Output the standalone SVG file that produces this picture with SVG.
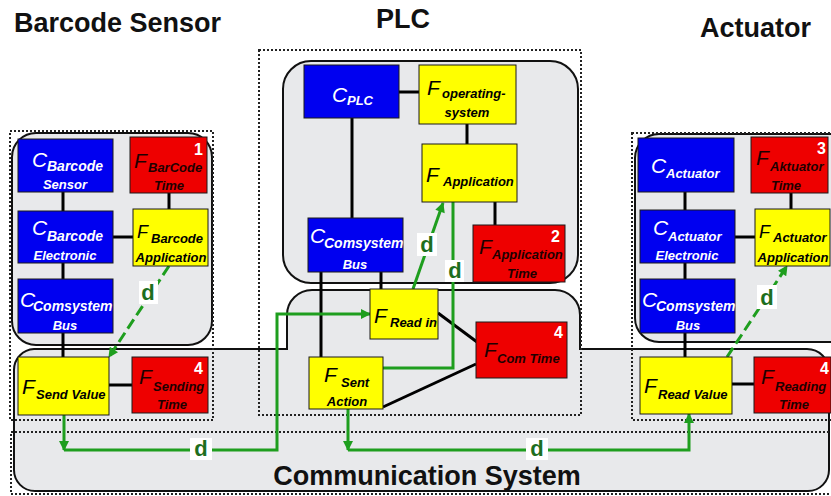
<svg xmlns="http://www.w3.org/2000/svg" width="831" height="496" viewBox="0 0 831 496">
  <style>
    text { font-family: "Liberation Sans", Arial, sans-serif; }
    .title { font-size: 27px; font-weight: bold; fill: #111; }
    .cs { font-size: 27px; font-weight: bold; fill: #111; text-anchor: middle; }
    .big { font-size: 21px; font-style: italic; }
    .mid { font-size: 18px; font-style: italic; }
    .sub { font-size: 13px; font-style: italic; font-weight: bold; }
    .sub14 { font-size: 14px; font-style: italic; font-weight: bold; }
    .c { text-anchor: middle; }
    .w { fill: #fff; }
    .k { fill: #000; }
    .r { fill: #1e0000; }
    .num { font-size: 16px; font-weight: bold; fill: #fff; text-anchor: end; }
    .blue { fill: #0000f0; stroke: #1a1a1a; stroke-width: 1; }
    .yel { fill: #ffff00; stroke: #1a1a1a; stroke-width: 1; }
    .red { fill: #ee0000; stroke: #1a1a1a; stroke-width: 1; }
    .frame { fill: #e8e9eb; stroke: #111; stroke-width: 2; }
    .dot { fill: none; stroke: #222; stroke-width: 2; stroke-dasharray: 2 2; }
    .wire { stroke: #000; stroke-width: 3; fill: none; }
    .g { stroke: #1e9e1e; stroke-width: 3; fill: none; }
    .dash { stroke-dasharray: 11 5; }
    .dl { font-size: 22px; font-weight: bold; fill: #1e6e1e; text-anchor: middle; }
    .lbg { fill: #fff; }
  </style>
  <defs>
    <marker id="arrow" viewBox="0 0 10 10" refX="9" refY="5" markerWidth="11" markerHeight="10" markerUnits="userSpaceOnUse" orient="auto">
      <path d="M0,0 L10,5 L0,10 Z" fill="#1e9e1e"/>
    </marker>
  </defs>

  <rect width="831" height="496" fill="#fff"/>

  <!-- titles -->
  <text class="title" x="14" y="32">Barcode Sensor</text>
  <text class="title" x="376" y="28">PLC</text>
  <text class="title" x="700" y="37">Actuator</text>

  <!-- grey frames -->
  <g id="frames">
    <rect class="frame" x="12" y="133" width="200" height="212" rx="24"/>
    <rect class="frame" x="283" y="61" width="295" height="222" rx="28"/>
    <rect class="frame" x="635" y="134" width="230" height="208" rx="24"/>
    <path class="frame" d="M34,349 H287 V315 A25,25 0 0 1 312,290 H555 A25,25 0 0 1 580,315 V349 H807 A22,22 0 0 1 829,371 V470 A21,21 0 0 1 808,491 H35 A21,21 0 0 1 14,470 V370 A21,21 0 0 1 34,349 Z"/>
  </g>

  <!-- dotted groupings -->
  <g id="groups">
    <rect class="dot" x="10" y="131" width="203" height="289"/>
    <rect class="dot" x="259" y="50" width="322" height="365"/>
    <rect class="dot" x="632" y="133" width="210" height="287"/>
    <rect class="dot" x="11" y="432" width="830" height="62"/>
  </g>

  <text class="cs" x="427" y="485">Communication System</text>

  <!-- connectors -->
  <g id="connectors">
    <!-- barcode sensor wiring -->
    <line class="wire" x1="63" y1="192" x2="63" y2="211"/>
    <line class="wire" x1="63" y1="263" x2="63" y2="279"/>
    <line class="wire" x1="113" y1="237" x2="133" y2="237"/>
    <line class="wire" x1="169" y1="193" x2="169" y2="209"/>
    <line class="wire" x1="63" y1="333" x2="63" y2="357"/>
    <line class="wire" x1="109" y1="385" x2="132" y2="385"/>
    <!-- PLC wiring -->
    <line class="wire" x1="399" y1="92" x2="419" y2="92"/>
    <line class="wire" x1="467" y1="124" x2="467" y2="144"/>
    <line class="wire" x1="352" y1="118" x2="352" y2="218"/>
    <line class="wire" x1="495" y1="202" x2="495" y2="225"/>
    <line class="wire" x1="321" y1="272" x2="321" y2="357"/>
    <line class="wire" x1="381" y1="272" x2="381" y2="289"/>
    <line class="wire" x1="438" y1="313" x2="477" y2="342"/>
    <line class="wire" x1="383" y1="407" x2="476" y2="364"/>
    <!-- actuator wiring -->
    <line class="wire" x1="685" y1="192" x2="685" y2="210"/>
    <line class="wire" x1="685" y1="263" x2="685" y2="279"/>
    <line class="wire" x1="735" y1="237" x2="755" y2="237"/>
    <line class="wire" x1="791" y1="193" x2="791" y2="209"/>
    <line class="wire" x1="685" y1="333" x2="685" y2="357"/>
    <line class="wire" x1="732" y1="384" x2="754" y2="384"/>

    <!-- data flows -->
    <line class="g dash" x1="169" y1="266" x2="109" y2="357" marker-end="url(#arrow)"/>
    <path class="g" d="M64,415 V450" marker-end="url(#arrow)"/>
    <path class="g" d="M64,450 H277 V314 H370" marker-end="url(#arrow)"/>
    <line class="g" x1="413" y1="289" x2="443" y2="203" marker-end="url(#arrow)"/>
    <path class="g" d="M383,368 H453 V202"/>
    <path class="g" d="M348,409 V450" marker-end="url(#arrow)"/>
    <path class="g" d="M348,450 H689 V414" marker-end="url(#arrow)"/>
    <line class="g dash" x1="727" y1="357" x2="787" y2="266" marker-end="url(#arrow)"/>

    <!-- delay labels -->
    <rect class="lbg" x="139" y="281" width="19" height="23"/>
    <text class="dl" x="148" y="300">d</text>
    <rect class="lbg" x="190" y="438" width="22" height="22"/>
    <text class="dl" x="201" y="456">d</text>
    <rect class="lbg" x="417" y="233" width="20" height="23"/>
    <text class="dl" x="427" y="252">d</text>
    <rect class="lbg" x="445" y="260" width="19" height="22"/>
    <text class="dl" x="455" y="278">d</text>
    <rect class="lbg" x="526" y="438" width="22" height="22"/>
    <text class="dl" x="537" y="456">d</text>
    <rect class="lbg" x="757" y="285" width="20" height="24"/>
    <text class="dl" x="767" y="305">d</text>
  </g>

  <!-- Barcode sensor nodes -->
  <g id="c-barcode-sensor">
    <rect class="blue" x="18" y="139" width="95" height="53"/>
    <text class="big w" x="32" y="167">C</text>
    <text class="sub14 w" x="47" y="171">Barcode</text>
    <text class="sub w c" x="65" y="189">Sensor</text>
  </g>
  <g id="f-barcode-time">
    <rect class="red" x="130" y="137" width="77" height="56"/>
    <text class="big r" x="134" y="168">F</text>
    <text class="sub r" x="148" y="172">BarCode</text>
    <text class="sub r c" x="169" y="190">Time</text>
    <text class="num" x="203" y="155">1</text>
  </g>
  <g id="c-barcode-electronic">
    <rect class="blue" x="18" y="211" width="95" height="52"/>
    <text class="big w" x="32" y="235">C</text>
    <text class="sub14 w" x="47" y="241">Barcode</text>
    <text class="sub w c" x="65" y="260">Electronic</text>
  </g>
  <g id="f-barcode-application">
    <rect class="yel" x="133" y="209" width="75" height="57"/>
    <text class="mid k" x="137" y="238">F</text>
    <text class="sub k" x="151" y="243">Barcode</text>
    <text class="sub k c" x="171" y="262">Application</text>
  </g>
  <g id="c-comsystem-bus-sensor">
    <rect class="blue" x="18" y="279" width="95" height="54"/>
    <text class="big w" x="20" y="307">C</text>
    <text class="sub14 w" x="33" y="311">Comsystem</text>
    <text class="sub w c" x="65" y="330">Bus</text>
  </g>
  <g id="f-send-value">
    <rect class="yel" x="18" y="357" width="91" height="58"/>
    <text class="big k" x="22" y="394">F</text>
    <text class="sub k" x="36" y="399">Send Value</text>
  </g>
  <g id="f-sending-time">
    <rect class="red" x="132" y="357" width="76" height="56"/>
    <text class="big r" x="139" y="384">F</text>
    <text class="sub r" x="153" y="391">Sending</text>
    <text class="sub r c" x="172" y="409">Time</text>
    <text class="num" x="203" y="374">4</text>
  </g>

  <!-- PLC nodes -->
  <g id="c-plc">
    <rect class="blue" x="304" y="65" width="95" height="53"/>
    <text class="big w" x="332" y="102">C</text>
    <text class="sub w" x="347" y="105">PLC</text>
  </g>
  <g id="f-operating-system">
    <rect class="yel" x="419" y="65" width="97" height="59"/>
    <text class="big k" x="427" y="95">F</text>
    <text class="sub k" x="442" y="98">operating-</text>
    <text class="sub k c" x="467" y="117">system</text>
  </g>
  <g id="f-application">
    <rect class="yel" x="422" y="144" width="95" height="58"/>
    <text class="big k" x="426" y="182">F</text>
    <text class="sub k" x="443" y="186">Application</text>
  </g>
  <g id="f-application-time">
    <rect class="red" x="473" y="225" width="92" height="57"/>
    <text class="big r" x="479" y="254">F</text>
    <text class="sub r" x="492" y="259">Application</text>
    <text class="sub r c" x="522" y="278">Time</text>
    <text class="num" x="560" y="242">2</text>
  </g>
  <g id="c-comsystem-bus-plc">
    <rect class="blue" x="308" y="218" width="95" height="54"/>
    <text class="big w" x="310" y="243">C</text>
    <text class="sub14 w" x="324" y="248">Comsystem</text>
    <text class="sub w c" x="355" y="269">Bus</text>
  </g>
  <g id="f-read-in">
    <rect class="yel" x="370" y="289" width="68" height="50"/>
    <text class="big k" x="374" y="323">F</text>
    <text class="sub k" x="390" y="327">Read in</text>
  </g>
  <g id="f-com-time">
    <rect class="red" x="476" y="322" width="91" height="56"/>
    <text class="big r" x="484" y="357">F</text>
    <text class="sub r" x="497" y="363">Com Time</text>
    <text class="num" x="563" y="338">4</text>
  </g>
  <g id="f-sent-action">
    <rect class="yel" x="309" y="357" width="74" height="52"/>
    <text class="big k" x="324" y="382">F</text>
    <text class="sub k" x="341" y="387">Sent</text>
    <text class="sub k c" x="347" y="406">Action</text>
  </g>

  <!-- Actuator nodes -->
  <g id="c-actuator">
    <rect class="blue" x="638" y="138" width="96" height="54"/>
    <text class="big w" x="651" y="173">C</text>
    <text class="sub w" x="666" y="178">Actuator</text>
  </g>
  <g id="f-aktuator-time">
    <rect class="red" x="751" y="137" width="77" height="56"/>
    <text class="big r" x="756" y="165">F</text>
    <text class="sub r" x="770" y="171">Aktuator</text>
    <text class="sub r c" x="786" y="190">Time</text>
    <text class="num" x="826" y="154">3</text>
  </g>
  <g id="c-actuator-electronic">
    <rect class="blue" x="640" y="210" width="95" height="53"/>
    <text class="big w" x="653" y="235">C</text>
    <text class="sub w" x="668" y="241">Actuator</text>
    <text class="sub w c" x="687" y="260">Electronic</text>
  </g>
  <g id="f-actuator-application">
    <rect class="yel" x="755" y="209" width="75" height="57"/>
    <text class="mid k" x="759" y="238">F</text>
    <text class="sub k" x="773" y="242">Actuator</text>
    <text class="sub k c" x="793" y="262">Application</text>
  </g>
  <g id="c-comsystem-bus-actuator">
    <rect class="blue" x="640" y="279" width="95" height="54"/>
    <text class="big w" x="642" y="307">C</text>
    <text class="sub14 w" x="656" y="311">Comsystem</text>
    <text class="sub w c" x="688" y="330">Bus</text>
  </g>
  <g id="f-read-value">
    <rect class="yel" x="640" y="357" width="92" height="57"/>
    <text class="big k" x="644" y="393">F</text>
    <text class="sub k" x="658" y="399">Read Value</text>
  </g>
  <g id="f-reading-time">
    <rect class="red" x="754" y="357" width="77" height="56"/>
    <text class="big r" x="761" y="384">F</text>
    <text class="sub r" x="775" y="391">Reading</text>
    <text class="sub r c" x="794" y="409">Time</text>
    <text class="num" x="829" y="374">4</text>
  </g>
</svg>
